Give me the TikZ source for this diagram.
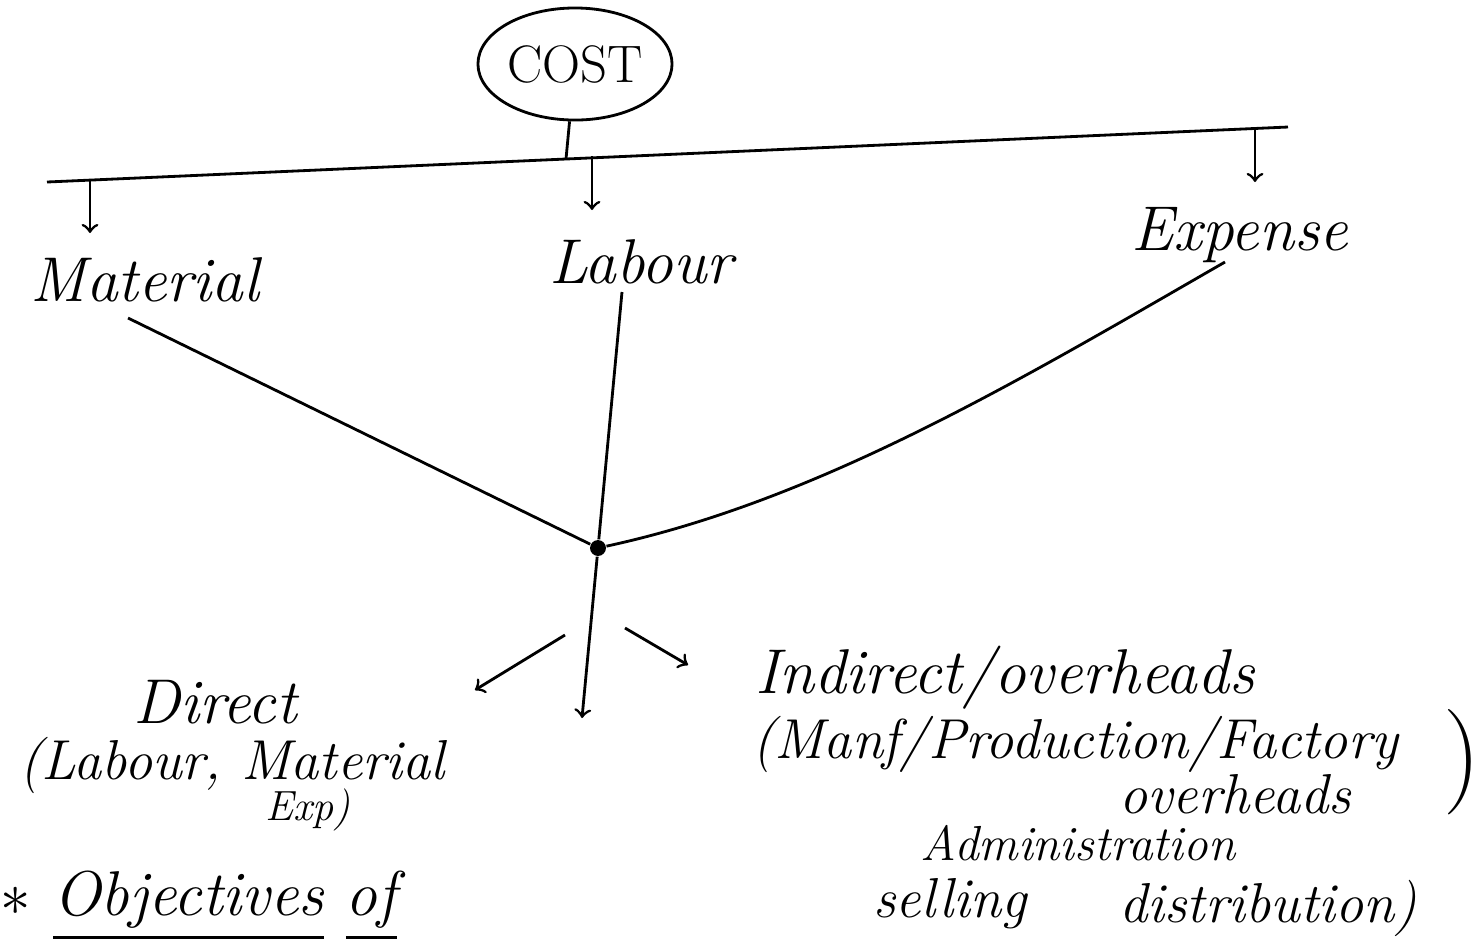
\documentclass[tikz,border=0pt]{standalone}
\usepackage{amsmath}
\usepackage{amssymb}
\usepackage{tikz}
\usetikzlibrary{shapes.geometric}

\begin{document}
\begin{tikzpicture}[x=0.01cm, y=-0.01cm, every node/.style={inner sep=0pt, font=\fontsize{18}{20}\selectfont\itshape}]
	\useasboundingbox (0,0) rectangle (1484,944);
	\node [ellipse, draw, thick, minimum width=1.94cm, minimum height=1.12cm, font=\fontsize{15}{18}\selectfont] (cost) at (575,64) {COST};
	\coordinate (BarL) at (47,182);
	\coordinate (BarR) at (1288,127);
	\coordinate (Stem) at (566,159);
	\draw [thick] (cost) -- (Stem);
	\draw [thick] (BarL) -- (BarR);
	\coordinate (MatTop) at (90,181);
	\coordinate (MatTip) at (90,233);
	\coordinate (LabTop) at (592,156);
	\coordinate (LabTip) at (592,210);
	\coordinate (ExpTop) at (1255,129);
	\coordinate (ExpTip) at (1255,182);
	\draw [thick, ->] (MatTop) -- (MatTip);
	\draw [thick, ->] (LabTop) -- (LabTip);
	\draw [thick, ->] (ExpTop) -- (ExpTip);
	\node (material) at (145,280) {Material};
	\node (labour) at (641,262) {Labour};
	\node (expense) at (1240,235) {Expense};
	\node [circle, fill, inner sep=1.6pt] (junction) at (598,548) {};
	\coordinate (MatFoot) at (128,318);
	\coordinate (LabFoot) at (622,292);
	\coordinate (ExpFoot) at (1225,262);
	\draw [thick] (MatFoot) -- (junction);
	\draw [thick] (LabFoot) -- (junction);
	\draw [thick] (ExpFoot) .. controls (1020,380) and (820,500) .. (junction);
	\coordinate (DownTip) at (582,718);
	\draw [thick, ->] (junction) -- (DownTip);
	\coordinate (LeftStart) at (565,635);
	\coordinate (LeftTip) at (475,690);
	\draw [thick, ->] (LeftStart) -- (LeftTip);
	\coordinate (RightStart) at (625,628);
	\coordinate (RightTip) at (688,665);
	\draw [thick, ->] (RightStart) -- (RightTip);
	\node (direct) at (215,702) {Direct};
	\node [font=\fontsize{16}{18}\selectfont\itshape] (directsub) at (232,765) {(Labour, Material};
	\node [font=\fontsize{12}{14}\selectfont\itshape] (directexp) at (308,810) {Exp)};
	\node (indirect) at (1005,678) {Indirect/overheads};
	\node [font=\fontsize{16}{18}\selectfont\itshape] (manf) at (1075,744) {(Manf/Production/Factory};
	\node [font=\fontsize{30}{34}\selectfont] (manfclose) at (1462,762) {)};
	\node [font=\fontsize{16}{18}\selectfont\itshape] (manfovh) at (1235,794) {overheads};
	\node [font=\fontsize{14}{16}\selectfont\itshape] (admin) at (1078,843) {Administration};
	\node [font=\fontsize{16}{18}\selectfont\itshape] (selling) at (950,904) {selling};
	\node [font=\fontsize{16}{18}\selectfont\itshape] (distribution) at (1268,908) {distribution)};
	\node [anchor=west] (objectives) at (0,906) {$*$ \underline{Objectives} \underline{of}};
\end{tikzpicture}
\end{document}
